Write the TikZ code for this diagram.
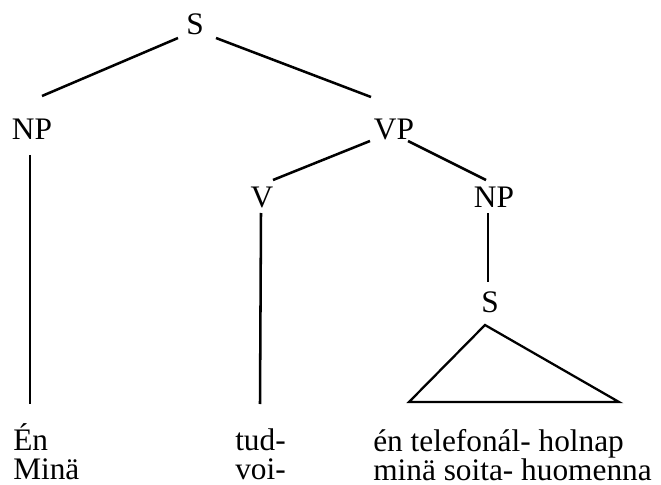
\documentclass[tikz,border=0pt]{standalone}
\usepackage{fontspec}
\setmainfont{Liberation Serif}
\begin{document}
\begin{tikzpicture}[x=0.75pt,y=-0.75pt,
  lbl/.style={inner sep=0pt,anchor=base,font=\fontsize{23.5}{28}\selectfont},
  word/.style={inner sep=0pt,anchor=base west,align=left,font=\fontsize{23.5}{21.75}\selectfont},
  edge/.style={line width=1.9pt,line cap=butt},
  tri/.style={line width=1.7pt,line join=miter}]
\useasboundingbox[fill=white] (0,0) rectangle (661,485);
% category labels
\node[lbl] (S)   at (195,35)  {S};
\node[lbl] (NPa) at (32,139)  {NP};
\node[lbl] (VP)  at (394,139) {VP};
\node[lbl] (V)   at (262,207) {V};
\node[lbl] (NPb) at (494,207) {NP};
\node[lbl] (Sb)  at (490,312) {S};
% words
\node[word] (w1) at (13,479)  {Én\\Minä};
\node[word] (w2) at (235,479) {tud-\\voi-};
\node[word] (w3) at (373,480) {én telefonál- holnap\\minä soita- huomenna};
% branches
\draw[edge] ([shift={(-17,3)}]S.base) -- ([shift={(10,-43)}]NPa.base);
\draw[edge] ([shift={(21,3)}]S.base) -- ([shift={(-23,-42)}]VP.base);
\draw[edge] ([shift={(-24,2)}]VP.base) -- ([shift={(11,-27)}]V.base);
\draw[edge] ([shift={(14,2)}]VP.base) -- ([shift={(-8,-27)}]NPb.base);
\draw[edge] ([shift={(-2,16)}]NPa.base) -- (30,404);
\draw[edge] ([shift={(-1,6)}]V.base) -- (260,404);
\draw[edge] ([shift={(-6,6)}]NPb.base) -- ([shift={(-2,-30)}]Sb.base);
% triangle
\coordinate (tl) at (409,402);
\coordinate (tr) at (619,402);
\draw[tri] ([shift={(-5,13)}]Sb.base) -- (tr) -- (tl) -- cycle;
\end{tikzpicture}
\end{document}
